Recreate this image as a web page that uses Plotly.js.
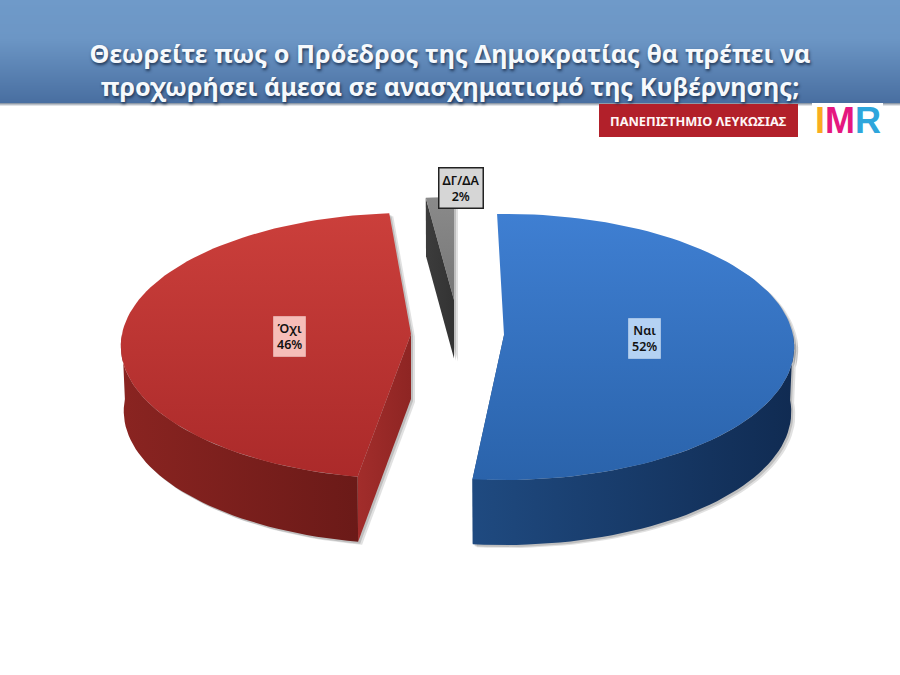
<!DOCTYPE html>
<html><head><meta charset="utf-8">
<script src="https://cdn.plot.ly/plotly-3.0.1.min.js"></script>
<style>html,body{margin:0;padding:0;background:#fff}#c{width:900px;height:675px}</style>
</head><body><div id="c"></div>
<script>
const categories = ['Ναι', 'Όχι', 'ΔΓ/ΔΑ'];
const values = [52, 46, 2];
const titleLines = ['Θεωρείτε πως ο Πρόεδρος της Δημοκρατίας θα πρέπει να', 'προχωρήσει άμεσα σε ανασχηματισμό της Κυβέρνησης;'];
const universityLabel = 'ΠΑΝΕΠΙΣΤΗΜΙΟ ΛΕΥΚΩΣΙΑΣ';

// Drawing style of each exploded slice, in the order of categories.
// Vertical gradients list the lower colour first, because the y axis runs downwards.
const sliceStyle = [
  {cx:504, cy:335, scale:1,   rot:-1.5,
   face:['#2a63ab','#3f7fd2'], arc:['#1f4a80','#102b52'], cut:['#1d4474','#1a3e6c'], lab:[644,338], box:'#b4d2f3'},
  {cx:411, cy:334, scale:1,   rot:2.5,
   face:['#ab2a2a','#cb3f3b'], arc:['#8a2421','#6b1a18'], cut:['#a22d2b','#8e2523'], lab:[289,336], box:'#f6bdb8'},
  {cx:454, cy:300, scale:0.85, rot:0,
   face:['#777777','#8a8a8a'], arc:['#3a3a3a','#3a3a3a'], cut:['#3c3c3c','#333333'], lab:[461,188], box:'#d6d6d6'}
];
const A = 289, B = 132, K = 0.09, DEPTH = 65;

function project(s, deg, low) {
  const t = deg * Math.PI / 180, u = Math.sin(t), v = -Math.cos(t);
  const p = 1 / (1 - K * v), d = low ? 0.99 : 1;
  return [s.cx + A * s.scale * u * p * d,
          s.cy + B * s.scale * v * p + (low ? DEPTH * (s.scale < 1 ? 0.9 : 1) : 0)];
}
function arcPts(s, a0, a1, low) {
  const out = [], n = Math.max(2, Math.ceil(Math.abs(a1 - a0) / 2));
  for (let i = 0; i <= n; i++) out.push(project(s, a0 + (a1 - a0) * i / n, low));
  return out;
}
function poly(pts, colors, type, extra) {
  return Object.assign({
    type:'scatter', mode:'lines', x:pts.map(p=>p[0]), y:pts.map(p=>p[1]),
    fill:'toself', line:{width:0, color:colors[0]}, hoverinfo:'skip', showlegend:false,
    fillgradient:{type:type, colorscale:[[0,colors[0]],[1,colors[1]]]}
  }, extra || {});
}

const traces = [], shadowTraces = [];
let acc = 0;
const total = values.reduce((a,b)=>a+b,0);
const spans = values.map(v => { const a = acc; acc += v * 360 / total; return [a, acc]; });

[2,1,0].forEach(i => {
  const s = sliceStyle[i], a0 = spans[i][0] + s.rot, a1 = spans[i][1] + s.rot;
  const apexT = [s.cx, s.cy], apexB = [s.cx, s.cy + DEPTH * (s.scale < 1 ? 0.9 : 1)];
  // visible part of the rounded outer wall: only the near half of the ellipse
  const w0 = Math.max(a0, 90), w1 = Math.min(a1, 270);
  const walls = [];
  if (i === 1) walls.push(poly([apexT, project(s,a0,false), project(s,a0,true), apexB], s.cut, 'horizontal'));
  if (i === 2) walls.push(poly([project(s,a0,false), apexT, apexB, project(s,a0,true)], s.cut, 'horizontal'));
  if (i === 0) walls.push(poly([apexT, project(s,a1,false), project(s,a1,true), apexB], s.cut, 'horizontal'));
  if (w1 > w0) walls.push(poly(arcPts(s,w0,w1,false).concat(arcPts(s,w1,w0,true)), s.arc, 'horizontal'));
  const facePts = [apexT].concat(arcPts(s,a0,a1,false));
  // soft drop shadow from the same outlines
  const offs = [[4,3,.18],[2,2,.25]];
  offs.forEach(o => {
    walls.concat([{x:facePts.map(p=>p[0]), y:facePts.map(p=>p[1])}]).forEach(w => {
      shadowTraces.push({type:'scatter', mode:'lines', x:w.x.map(v=>v+o[0]), y:w.y.map(v=>v+o[1]),
        fill:'toself', fillcolor:'rgba(90,90,90,'+o[2]+')', line:{width:0}, hoverinfo:'skip', showlegend:false});
    });
  });
  walls.forEach(w => traces.push(w));
  traces.push(poly(facePts, s.face, 'vertical'));
});

// Header band built from thin strips
const headerStops = [[0,[111,154,201]],[38,[108,150,197]],[103,[72,110,160]]];
function headerColor(y){
  for (let i=1;i<headerStops.length;i++){
    const a=headerStops[i-1], b=headerStops[i];
    if (y<=b[0]){const t=(y-a[0])/(b[0]-a[0]);
      return 'rgb('+a[1].map((c,j)=>Math.round(c+(b[1][j]-c)*t)).join(',')+')';}
  }
}
const shapes = [];
for (let y=0;y<103;y++) shapes.push({type:'rect',xref:'x',yref:'y',x0:0,x1:900,y0:y,y1:y+1.2,line:{width:0},fillcolor:headerColor(y),layer:'below'});
[[103,'#8e9aa8'],[104,'#b9bfc7'],[105,'#dfe2e6']].forEach(r=>shapes.push({type:'rect',xref:'x',yref:'y',x0:0,x1:900,y0:r[0],y1:r[0]+1,line:{width:0},fillcolor:r[1],layer:'below'}));
shapes.push({type:'rect',xref:'x',yref:'y',x0:599,x1:798,y0:104,y1:137,line:{width:0},fillcolor:'#b2202a'});
shapes.push({type:'rect',xref:'x',yref:'y',x0:812,x1:883,y0:103,y1:137,line:{width:0},fillcolor:'#ffffff'});

const annotations = categories.map((c,i)=>{
  const s = sliceStyle[i];
  return {xref:'x',yref:'y',x:s.lab[0],y:s.lab[1],text:c+'<br>'+values[i]+'%',showarrow:false,align:'center',
    font:{family:'Noto Sans, sans-serif',size:12.5,color:'#111',weight:600},bgcolor:s.box,
    bordercolor:i===2?'#222':'rgba(255,255,255,.35)',borderwidth:i===2?1.5:1,borderpad:3};
});
annotations.push({xref:'x',yref:'y',x:698.5,y:120.5,text:universityLabel,showarrow:false,
  font:{family:'Noto Sans, sans-serif',size:12.8,color:'#fff6f6',weight:700}});
annotations.push({xref:'x',yref:'y',x:847.5,y:120,showarrow:false,
  text:'<span style="color:#f9ad1f">I</span><span style="color:#e5177f">M</span><span style="color:#2ea6dc">R</span>',
  font:{family:'Liberation Sans, sans-serif',size:36,weight:700}});

Plotly.newPlot('c', shadowTraces.concat(traces), {
  width:900, height:675, margin:{l:0,r:0,t:0,b:0}, showlegend:false, hovermode:false,
  paper_bgcolor:'#fff', plot_bgcolor:'#fff',
  xaxis:{range:[0,900],visible:false,fixedrange:true},
  yaxis:{range:[675,0],visible:false,fixedrange:true},
  title:{text:titleLines.join('<br>'),x:0.5,xanchor:'center',y:0.906,yanchor:'middle',yref:'container',
    font:{family:'Noto Sans, sans-serif',size:25.2,color:'#f6f9fc',weight:700,shadow:'1px 2px 3px rgba(25,45,75,.9)'}},
  shapes, annotations
},{staticPlot:true,displayModeBar:false});
</script></body></html>
